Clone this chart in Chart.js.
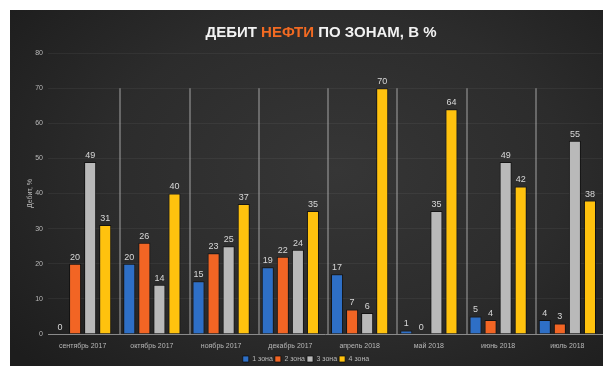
<!DOCTYPE html>
<html lang="ru">
<head>
<meta charset="utf-8">
<title>Дебит нефти по зонам</title>
<script src="https://cdn.jsdelivr.net/npm/chart.js@4/dist/chart.umd.min.js"></script>
<style>
  html, body { margin: 0; padding: 0; background: #ffffff; }
  #frame {
    position: absolute; left: 10px; top: 10px; width: 593px; height: 356px;
    background: radial-gradient(ellipse 70% 80% at 55% 45%, #363636 0%, #2c2c2c 55%, #1d1d1d 100%);
  }
  #frame canvas { display: block; }
</style>
</head>
<body>
<div id="frame"><canvas id="c" width="593" height="356"></canvas></div>
<script>
// Months on the category axis
const months = ["сентябрь 2017", "октябрь 2017", "ноябрь 2017", "декабрь 2017",
                "апрель 2018", "май 2018", "июнь 2018", "июль 2018"];

// Oil flow rate share per zone, %
const zone1 = [0, 20, 15, 19, 17, 1, 5, 4];
const zone2 = [20, 26, 23, 22, 7, 0, 4, 3];
const zone3 = [49, 14, 25, 24, 6, 35, 49, 55];
const zone4 = [31, 40, 37, 35, 70, 64, 42, 38];

const zoneNames = ["1 зона", "2 зона", "3 зона", "4 зона"];
const yTicks = [0, 10, 20, 30, 40, 50, 60, 70, 80];

const FONT = "'Liberation Sans', Arial, sans-serif";

// Value labels above every bar
const valueLabels = {
  id: 'valueLabels',
  afterDatasetsDraw(chart) {
    const ctx = chart.ctx;
    ctx.save();
    ctx.font = "9px " + FONT;
    ctx.fillStyle = "#d8d8d8";
    ctx.textAlign = "center";
    ctx.textBaseline = "bottom";
    chart.data.datasets.forEach((ds, di) => {
      chart.getDatasetMeta(di).data.forEach((bar, i) => {
        ctx.fillText(String(ds.data[i]), bar.x, bar.y - 2);
      });
    });
    ctx.restore();
  }
};

// Thin light separators between month groups
const groupDividers = {
  id: 'groupDividers',
  beforeDatasetsDraw(chart) {
    const x = chart.scales.x, y = chart.scales.y, ctx = chart.ctx;
    ctx.save();
    ctx.strokeStyle = "rgba(190,190,190,0.55)";
    ctx.lineWidth = 1.5;
    for (let i = 0; i < months.length - 1; i++) {
      const px = Math.round((x.getPixelForValue(i) + x.getPixelForValue(i + 1)) / 2) + 3;
      ctx.beginPath();
      ctx.moveTo(px, y.getPixelForValue(70));
      ctx.lineTo(px, y.getPixelForValue(0));
      ctx.stroke();
    }
    ctx.restore();
  }
};

// Heading with the word "НЕФТИ" highlighted
const heading = {
  id: 'heading',
  afterDraw(chart) {
    const ctx = chart.ctx;
    const parts = [["ДЕБИТ ", "#f2f2f2"], ["НЕФТИ", "#f26a22"], [" ПО ЗОНАМ, В %", "#f2f2f2"]];
    ctx.save();
    ctx.font = "bold 15px " + FONT;
    ctx.textBaseline = "middle";
    ctx.textAlign = "left";
    const total = parts.reduce((s, p) => s + ctx.measureText(p[0]).width, 0);
    let cx = (chart.chartArea.left + chart.chartArea.right) / 2 - total / 2 - 4;
    parts.forEach(([t, c]) => {
      ctx.fillStyle = c;
      ctx.fillText(t, cx, 23);
      cx += ctx.measureText(t).width;
    });
    ctx.restore();
  }
};

const barStyle = { borderWidth: 1, borderColor: "rgba(10,10,10,0.7)", categoryPercentage: 0.87, barPercentage: 0.8 };

new Chart(document.getElementById('c'), {
  type: 'bar',
  data: {
    labels: months,
    datasets: [
      Object.assign({ label: zoneNames[0], data: zone1, backgroundColor: "#2e6fc6" }, barStyle),
      Object.assign({ label: zoneNames[1], data: zone2, backgroundColor: "#f26524" }, barStyle),
      Object.assign({ label: zoneNames[2], data: zone3, backgroundColor: "#b9b9b9" }, barStyle),
      Object.assign({ label: zoneNames[3], data: zone4, backgroundColor: "#ffc20e" }, barStyle)
    ]
  },
  options: {
    responsive: false,
    animation: false,
    layout: { padding: { top: 43, right: 1, left: 0, bottom: -6.5 } },
    plugins: {
      legend: {
        position: 'bottom',
        labels: { color: "#b8b8b8", font: { size: 7, family: FONT }, boxWidth: 6, boxHeight: 6, padding: 2 }
      },
      title: { display: false },
      tooltip: { enabled: false }
    },
    scales: {
      x: {
        grid: { display: false, drawTicks: false },
        border: { display: true, color: "#8a8a8a", width: 1 },
        ticks: { color: "#b8b8b8", font: { size: 7, family: FONT }, maxRotation: 0, autoSkip: false, padding: 8 },
        afterFit(scale) { scale.height = 19.5; }
      },
      y: {
        min: 0, max: 80,
        afterBuildTicks(scale) { scale.ticks = yTicks.map(v => ({ value: v })); },
        grid: { color: "rgba(255,255,255,0.05)", drawTicks: false },
        border: { display: false },
        ticks: { color: "#b8b8b8", font: { size: 7, family: FONT }, padding: 5 },
        title: { display: true, text: "Дебит, %", color: "#b8b8b8", font: { size: 7, family: FONT }, padding: { top: 16, bottom: 0 } },
        afterFit(scale) { scale.width = 38; }
      }
    }
  },
  plugins: [groupDividers, valueLabels, heading]
});
</script>
</body>
</html>
